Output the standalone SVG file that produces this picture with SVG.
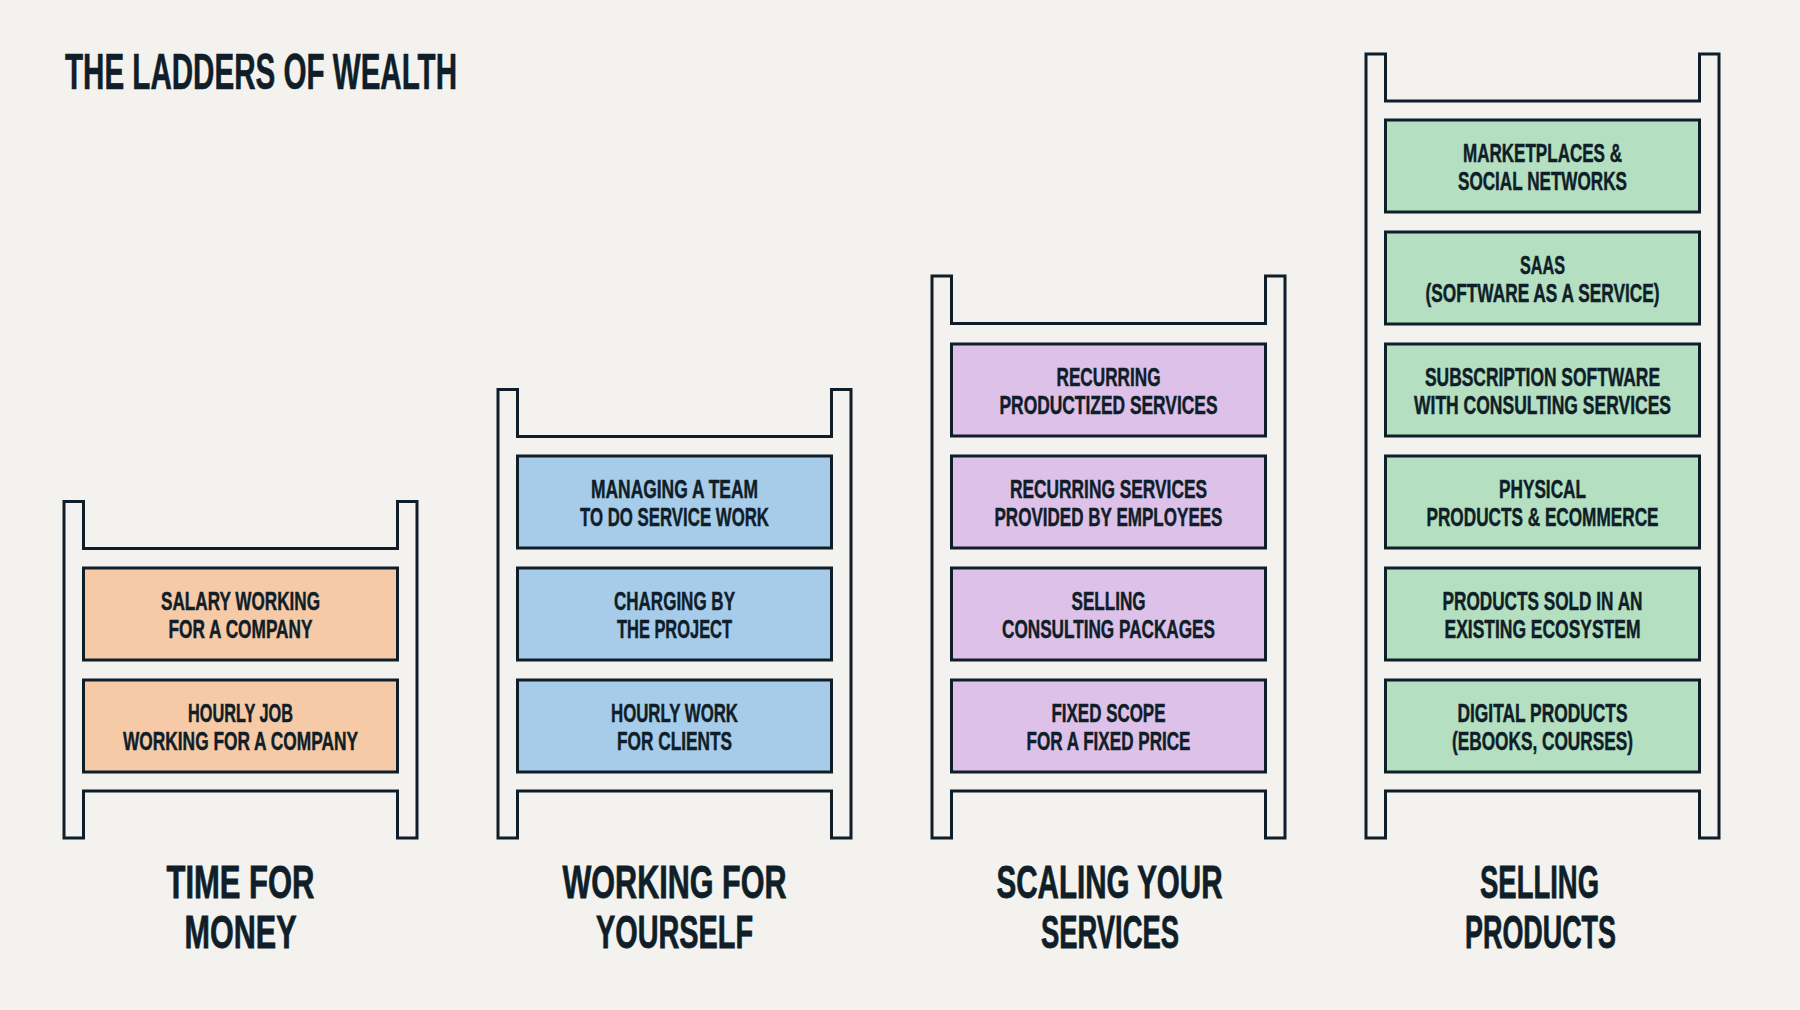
<svg xmlns="http://www.w3.org/2000/svg" width="1800" height="1010" viewBox="0 0 1800 1010">
  <style>
    .bg { fill: #f3f2ee; }
    .ladder { fill: #f3f2ee; stroke: #0f1e28; stroke-width: 3; stroke-linejoin: miter; }
    .box { stroke: #0f1e28; stroke-width: 3; }
    .orange { fill: #f6caa6; }
    .blue { fill: #a7cce9; }
    .purple { fill: #ddc1e9; }
    .green { fill: #b4dfc1; }
    text { font-family: "Liberation Sans Narrow", "Liberation Sans", Arial, sans-serif; font-weight: bold; fill: #0f1e28; }
    .t { font-size: 26px; text-anchor: middle; stroke: #0f1e28; stroke-width: 0.5; }
    .lbl { font-size: 46px; text-anchor: middle; stroke: #0f1e28; stroke-width: 0.8; }
    .title { font-size: 50px; stroke: #0f1e28; stroke-width: 0.6; }
  </style>
  <rect class="bg" x="0" y="0" width="1800" height="1010"/>

  <g id="title">
    <text class="title" x="65" y="89" textLength="392" lengthAdjust="spacingAndGlyphs">THE LADDERS OF WEALTH</text>
  </g>

  <g id="connectors"></g>

  <!-- Ladder 1 -->
  <g id="ladder-time-for-money">
    <path class="ladder" d="M64,501.5 H83.5 V548.5 H397.5 V501.5 H417 V838 H397.5 V791 H83.5 V838 H64 Z"/>
    <g id="box-salary">
      <rect class="box orange" x="83.5" y="568" width="314" height="92"/>
      <text class="t" x="240.5" y="610" textLength="159" lengthAdjust="spacingAndGlyphs">SALARY WORKING</text>
      <text class="t" x="240.5" y="638" textLength="144" lengthAdjust="spacingAndGlyphs">FOR A COMPANY</text>
    </g>
    <g id="box-hourly-job">
      <rect class="box orange" x="83.5" y="680" width="314" height="92"/>
      <text class="t" x="240.5" y="722" textLength="105" lengthAdjust="spacingAndGlyphs">HOURLY JOB</text>
      <text class="t" x="240.5" y="750" textLength="235" lengthAdjust="spacingAndGlyphs">WORKING FOR A COMPANY</text>
    </g>
    <g id="label-time-for-money">
      <text class="lbl" x="240.5" y="898" textLength="148" lengthAdjust="spacingAndGlyphs">TIME FOR</text>
      <text class="lbl" x="240.5" y="948" textLength="112" lengthAdjust="spacingAndGlyphs">MONEY</text>
    </g>
  </g>

  <!-- Ladder 2 -->
  <g id="ladder-working-for-yourself">
    <path class="ladder" d="M498,389.5 H517.5 V436.5 H831.5 V389.5 H851 V838 H831.5 V791 H517.5 V838 H498 Z"/>
    <g id="box-managing-team">
      <rect class="box blue" x="517.5" y="456" width="314" height="92"/>
      <text class="t" x="674.5" y="498" textLength="167" lengthAdjust="spacingAndGlyphs">MANAGING A TEAM</text>
      <text class="t" x="674.5" y="526" textLength="189" lengthAdjust="spacingAndGlyphs">TO DO SERVICE WORK</text>
    </g>
    <g id="box-charging-project">
      <rect class="box blue" x="517.5" y="568" width="314" height="92"/>
      <text class="t" x="674.5" y="610" textLength="121" lengthAdjust="spacingAndGlyphs">CHARGING BY</text>
      <text class="t" x="674.5" y="638" textLength="115" lengthAdjust="spacingAndGlyphs">THE PROJECT</text>
    </g>
    <g id="box-hourly-work">
      <rect class="box blue" x="517.5" y="680" width="314" height="92"/>
      <text class="t" x="674.5" y="722" textLength="127" lengthAdjust="spacingAndGlyphs">HOURLY WORK</text>
      <text class="t" x="674.5" y="750" textLength="115" lengthAdjust="spacingAndGlyphs">FOR CLIENTS</text>
    </g>
    <g id="label-working-for-yourself">
      <text class="lbl" x="674.5" y="898" textLength="224" lengthAdjust="spacingAndGlyphs">WORKING FOR</text>
      <text class="lbl" x="674.5" y="948" textLength="157" lengthAdjust="spacingAndGlyphs">YOURSELF</text>
    </g>
  </g>

  <!-- Ladder 3 -->
  <g id="ladder-scaling-services">
    <path class="ladder" d="M932,276 H951.5 V323.5 H1265.5 V276 H1285 V838 H1265.5 V791 H951.5 V838 H932 Z"/>
    <g id="box-recurring-productized">
      <rect class="box purple" x="951.5" y="344" width="314" height="92"/>
      <text class="t" x="1108.5" y="386" textLength="104" lengthAdjust="spacingAndGlyphs">RECURRING</text>
      <text class="t" x="1108.5" y="414" textLength="218" lengthAdjust="spacingAndGlyphs">PRODUCTIZED SERVICES</text>
    </g>
    <g id="box-recurring-employees">
      <rect class="box purple" x="951.5" y="456" width="314" height="92"/>
      <text class="t" x="1108.5" y="498" textLength="197" lengthAdjust="spacingAndGlyphs">RECURRING SERVICES</text>
      <text class="t" x="1108.5" y="526" textLength="228" lengthAdjust="spacingAndGlyphs">PROVIDED BY EMPLOYEES</text>
    </g>
    <g id="box-consulting-packages">
      <rect class="box purple" x="951.5" y="568" width="314" height="92"/>
      <text class="t" x="1108.5" y="610" textLength="74" lengthAdjust="spacingAndGlyphs">SELLING</text>
      <text class="t" x="1108.5" y="638" textLength="213" lengthAdjust="spacingAndGlyphs">CONSULTING PACKAGES</text>
    </g>
    <g id="box-fixed-scope">
      <rect class="box purple" x="951.5" y="680" width="314" height="92"/>
      <text class="t" x="1108.5" y="722" textLength="114" lengthAdjust="spacingAndGlyphs">FIXED SCOPE</text>
      <text class="t" x="1108.5" y="750" textLength="164" lengthAdjust="spacingAndGlyphs">FOR A FIXED PRICE</text>
    </g>
    <g id="label-scaling-services">
      <text class="lbl" x="1109.5" y="898" textLength="226" lengthAdjust="spacingAndGlyphs">SCALING YOUR</text>
      <text class="lbl" x="1110" y="948" textLength="138" lengthAdjust="spacingAndGlyphs">SERVICES</text>
    </g>
  </g>

  <!-- Ladder 4 -->
  <g id="ladder-selling-products">
    <path class="ladder" d="M1366,54 H1385.5 V101 H1699.5 V54 H1719 V838 H1699.5 V791 H1385.5 V838 H1366 Z"/>
    <g id="box-marketplaces">
      <rect class="box green" x="1385.5" y="120" width="314" height="92"/>
      <text class="t" x="1542.5" y="162" textLength="159" lengthAdjust="spacingAndGlyphs">MARKETPLACES &amp;</text>
      <text class="t" x="1542.5" y="190" textLength="169" lengthAdjust="spacingAndGlyphs">SOCIAL NETWORKS</text>
    </g>
    <g id="box-saas">
      <rect class="box green" x="1385.5" y="232" width="314" height="92"/>
      <text class="t" x="1542.5" y="274" textLength="45" lengthAdjust="spacingAndGlyphs">SAAS</text>
      <text class="t" x="1542.5" y="302" textLength="234" lengthAdjust="spacingAndGlyphs">(SOFTWARE AS A SERVICE)</text>
    </g>
    <g id="box-subscription">
      <rect class="box green" x="1385.5" y="344" width="314" height="92"/>
      <text class="t" x="1542.5" y="386" textLength="235" lengthAdjust="spacingAndGlyphs">SUBSCRIPTION SOFTWARE</text>
      <text class="t" x="1542.5" y="414" textLength="257" lengthAdjust="spacingAndGlyphs">WITH CONSULTING SERVICES</text>
    </g>
    <g id="box-physical">
      <rect class="box green" x="1385.5" y="456" width="314" height="92"/>
      <text class="t" x="1542.5" y="498" textLength="87" lengthAdjust="spacingAndGlyphs">PHYSICAL</text>
      <text class="t" x="1542.5" y="526" textLength="232" lengthAdjust="spacingAndGlyphs">PRODUCTS &amp; ECOMMERCE</text>
    </g>
    <g id="box-ecosystem">
      <rect class="box green" x="1385.5" y="568" width="314" height="92"/>
      <text class="t" x="1542.5" y="610" textLength="200" lengthAdjust="spacingAndGlyphs">PRODUCTS SOLD IN AN</text>
      <text class="t" x="1542.5" y="638" textLength="196" lengthAdjust="spacingAndGlyphs">EXISTING ECOSYSTEM</text>
    </g>
    <g id="box-digital">
      <rect class="box green" x="1385.5" y="680" width="314" height="92"/>
      <text class="t" x="1542.5" y="722" textLength="170" lengthAdjust="spacingAndGlyphs">DIGITAL PRODUCTS</text>
      <text class="t" x="1542.5" y="750" textLength="181" lengthAdjust="spacingAndGlyphs">(EBOOKS, COURSES)</text>
    </g>
    <g id="label-selling-products">
      <text class="lbl" x="1539.5" y="898" textLength="119" lengthAdjust="spacingAndGlyphs">SELLING</text>
      <text class="lbl" x="1540.5" y="948" textLength="151" lengthAdjust="spacingAndGlyphs">PRODUCTS</text>
    </g>
  </g>
</svg>
